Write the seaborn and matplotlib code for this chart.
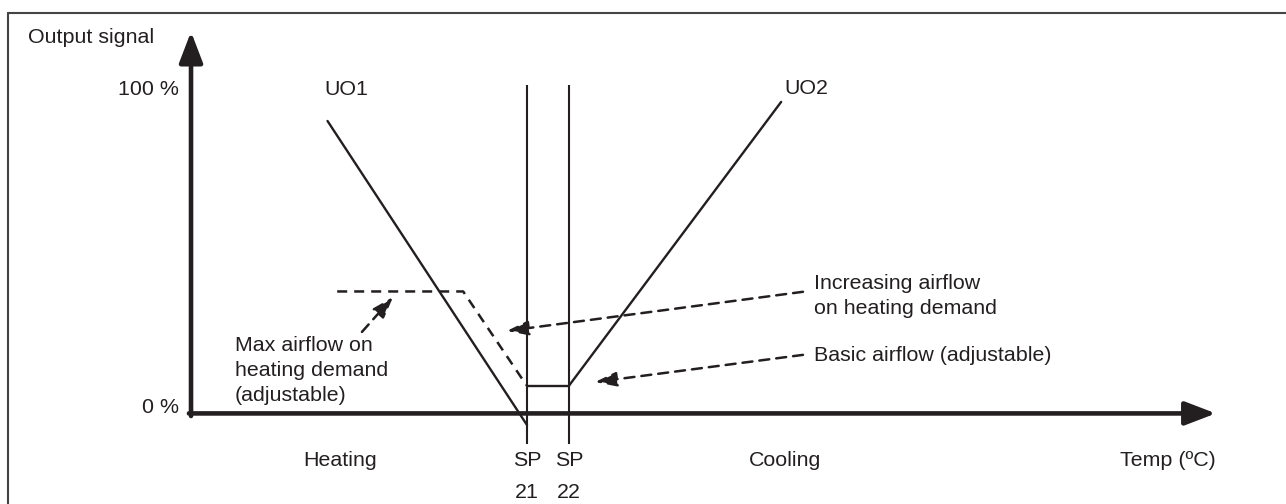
import matplotlib
matplotlib.use('Agg')
import matplotlib.pyplot as plt
from matplotlib.lines import Line2D
import seaborn as sns

# control curves: temperature (°C) against output signal (%)
uo1_temp = [16.25, 21.0]
uo1_out = [90.4, -3.6]
uo2_temp = [22.0, 27.05]
uo2_out = [8.6, 96.3]
basic_temp = [21.0, 22.0]
basic_out = [8.6, 8.6]
fan_temp = [16.48, 19.48, 20.95, 21.0]
fan_out = [37.7, 37.7, 9.4, 8.6]
setpoints = [21, 22]
sp_names = ['21', '22']

sns.set_theme(style='white')
plt.rcParams['font.family'] = ['Liberation Sans', 'DejaVu Sans']

ink = '#231f20'
fs = 15.4
dash = (0, (4, 2.8))

fig = plt.figure(figsize=(12.86, 5.04), dpi=100)
ax = fig.add_axes([0, 0, 1, 1])
ax.set_xlim(8.452, 39.07)
ax.set_ylim(-28.0, 127.8)
ax.axis('off')

# page frame (cut at right and bottom)
fx = 8 / 1286
fy = 1 - 13 / 504
fig.add_artist(Line2D([fx, fx], [0, fy], color='#444444', lw=1.5))
fig.add_artist(Line2D([fx, 1], [fy, fy], color='#444444', lw=1.5))

# axes with arrows
head = '-|>,head_length=0.94,head_width=0.36'
ax.annotate('', xy=(13, 118.0), xytext=(13, -0.8),
            arrowprops=dict(arrowstyle=head, lw=3.3, color=ink, mutation_scale=20,
                            shrinkA=0, shrinkB=0))
ax.annotate('', xy=(37.4, 0), xytext=(12.95, 0),
            arrowprops=dict(arrowstyle=head, lw=3.3, color=ink, mutation_scale=20,
                            shrinkA=0, shrinkB=0))

# setpoint lines
ax.vlines(setpoints, -9.4, 101.5, color=ink, lw=1.5)

sns.lineplot(x=uo1_temp, y=uo1_out, ax=ax, color=ink, lw=1.7, estimator=None, sort=False)
sns.lineplot(x=uo2_temp, y=uo2_out, ax=ax, color=ink, lw=1.7, estimator=None, sort=False)
sns.lineplot(x=basic_temp, y=basic_out, ax=ax, color=ink, lw=1.7, estimator=None, sort=False)
sns.lineplot(x=fan_temp, y=fan_out, ax=ax, color=ink, lw=1.8, linestyle=dash,
             estimator=None, sort=False)

# dashed pointer arrows
pointer = dict(arrowstyle='-|>,head_length=0.65,head_width=0.22', mutation_scale=20,
               lw=1.8, ls=dash, color=ink, shrinkA=0, shrinkB=0)
ax.annotate('', xy=(17.81, 36.0), xytext=(17.07, 25.2), arrowprops=pointer)
ax.annotate('', xy=(20.52, 25.5), xytext=(27.57, 37.6), arrowprops=pointer)
ax.annotate('', xy=(22.62, 9.7), xytext=(27.57, 18.1), arrowprops=pointer)

# texts
tk = dict(color=ink, fontsize=fs, va='center', linespacing=1.4)
ax.text(9.12, 116.1, 'Output signal', ha='left', **tk)
ax.text(12.72, 100, '100 %', ha='right', **tk)
ax.text(12.72, 1.7, '0 %', ha='right', **tk)
ax.text(16.69, 100, 'UO1', ha='center', **tk)
ax.text(27.64, 100.3, 'UO2', ha='center', **tk)
ax.text(27.83, 36.2, 'Increasing airflow\non heating demand', ha='left', **tk)
ax.text(27.83, 17.9, 'Basic airflow (adjustable)', ha='left', **tk)
ax.text(14.05, 13.4, 'Max airflow on\nheating demand\n(adjustable)', ha='left', **tk)
for sp, name in zip(setpoints, sp_names):
    ax.text(sp, -14.4, 'SP', ha='center', **tk)
    ax.text(sp, -24.3, name, ha='center', **tk)
ax.text(16.55, -14.4, 'Heating', ha='center', **tk)
ax.text(27.14, -14.4, 'Cooling', ha='center', **tk)
ax.text(37.40, -14.4, 'Temp (ºC)', ha='right', **tk)

fig.savefig('out.png', dpi=100)
